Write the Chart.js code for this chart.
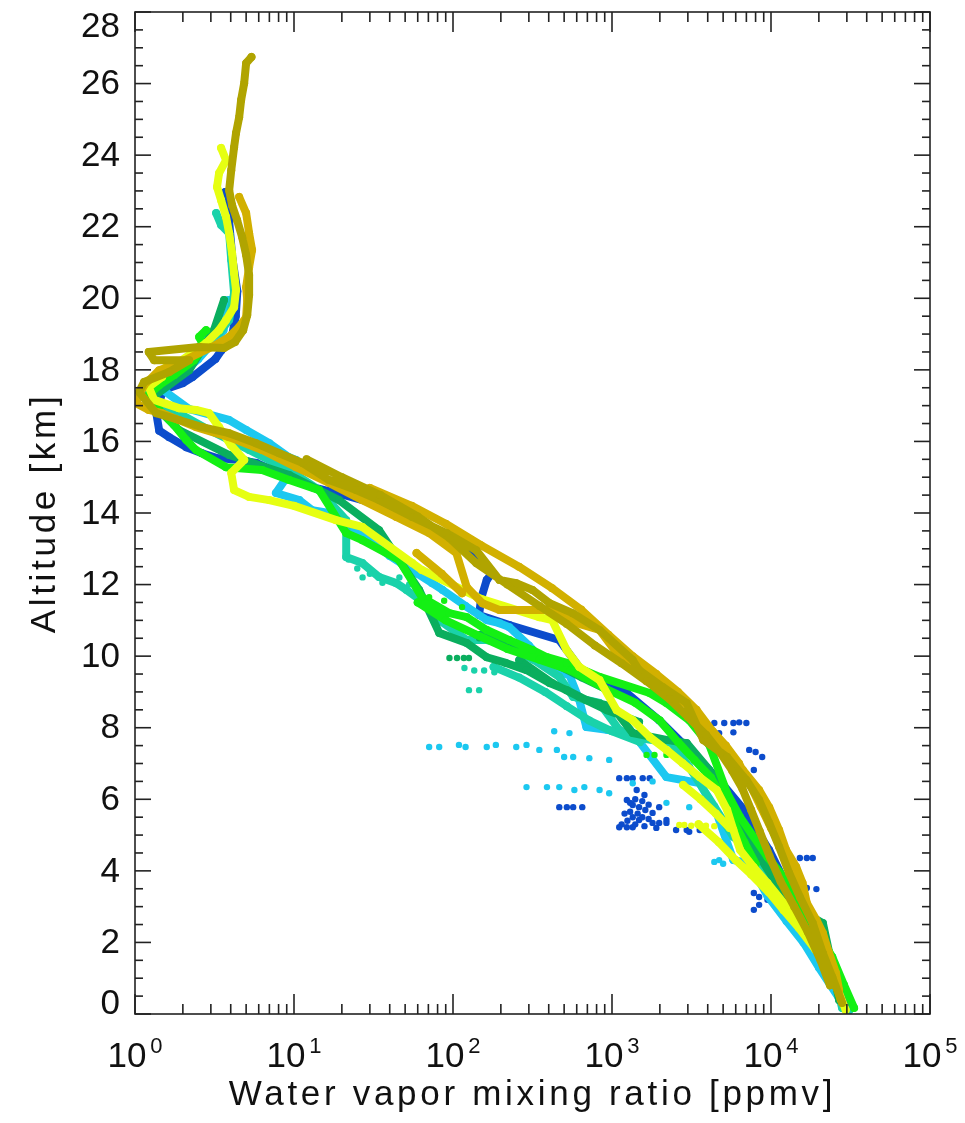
<!DOCTYPE html>
<html>
<head>
<meta charset="utf-8">
<title>Water vapor mixing ratio profiles</title>
<script src="https://cdn.jsdelivr.net/npm/chart.js@4.4.1/dist/chart.umd.min.js"></script>
<style>
  html, body { margin: 0; padding: 0; background: #fff; }
</style>
</head>
<body>
<canvas id="profile-chart" width="965" height="1123"></canvas>
<script>
// AXES

const xDecades = [1, 10, 100, 1000, 10000, 100000];
const xExponents = ['0', '1', '2', '3', '4', '5'];
const yTicks = [0, 2, 4, 6, 8, 10, 12, 14, 16, 18, 20, 22, 24, 26, 28];
const yMinorStep = 0.5;

// PROFILES  [ppmv, km], null = gap in the trace

const blueLine = [
  [3.7, 22.97], [3.9, 22.2], [4.1, 21.1], [4.4, 20.2], [4.3, 19.5], [4.1, 19.0], [3.9, 18.8],
  [3.5, 18.55], [3.2, 18.3], [2.3, 17.8], [2.0, 17.63], [1.5, 17.44], [1.36, 16.8], [1.42, 16.3],
  [1.64, 16.12], [2.1, 15.84], [2.64, 15.67], [3.24, 15.54], [4.5, 15.48], [5.8, 15.4], [7.3, 15.2],
  [9.3, 15.12], [13, 14.72], [18.4, 14.56], [27, 14.36], [36, 14.22], [51, 14.0], [71, 13.61],
  [95, 13.33], [126, 13.05], [153, 12.69], [176, 12.32], [163, 12.13], [150, 11.6], [146, 11.15],
  [226, 10.87], [466, 10.45], [690, 9.42], [835, 9.25], [1070, 9.05], [1240, 8.97], [1980, 8.21],
  [3060, 7.38], [4720, 6.54], [6780, 5.7], [9740, 4.58], [13000, 3.46], [18700, 2.07],
  [25000, 0.95], [30000, 0.25]
];
const blueDots = [
  [3560, 8.13], [3900, 8.13], [4400, 8.13], [5080, 8.13], [5800, 8.13], [6310, 8.15], [7000, 8.13],
  [4200, 7.85], [4720, 7.85], [5800, 7.87], [7290, 7.38], [8000, 7.32], [8800, 7.18], [7800, 6.82],
  [1110, 6.59], [1240, 6.59], [1350, 6.59], [1560, 6.59], [1725, 6.59],
  [1240, 5.98], [1350, 5.84], [1480, 5.78], [1620, 5.7], [1800, 5.62], [1350, 5.5], [1480, 5.42],
  [1110, 5.22], [1240, 5.22], [1350, 5.22], [1800, 5.34], [1980, 5.34], [2200, 5.34], [2530, 5.14],
  [3060, 5.09], [1600, 6.12], [1430, 6.26], [1300, 5.9], [1400, 6.0], [1550, 5.95], [1700, 5.85],
  [1200, 5.6], [1300, 5.65], [1450, 5.6], [1550, 5.5], [1700, 5.45], [1250, 5.4], [1400, 5.3],
  [1600, 5.25], [1900, 5.2], [1150, 5.3],
  [466, 5.78], [520, 5.78], [570, 5.78], [650, 5.78],
  [15190, 4.36], [16800, 4.36], [18300, 4.36],
  [7800, 3.38], [8420, 3.27], [9500, 3.19], [7800, 2.91], [8420, 3.05], [16800, 3.52], [19300, 3.49],
  [1980, 5.78], [2200, 5.42], [2950, 5.14], [3560, 5.14]
];

const cyanLine = [
  [3.9, 19.95], [3.6, 19.1], [2.5, 18.3], [1.5, 17.44], [2.2, 16.9], [3.9, 16.6], [5.0, 16.32],
  [7.0, 15.95], [9.3, 15.56], [10.3, 15.48], [9.0, 15.0], [7.7, 14.56], [10.8, 14.36], [13, 14.08],
  [16.6, 14.0], [25, 13.5], [40, 12.8], [60, 12.3], [74, 12.04], [86, 11.85], [120, 11.4],
  [163, 11.01], [196, 10.92], [226, 10.81], [300, 10.3], [420, 9.61], [540, 9.47], [620, 8.8],
  [690, 8.02], [930, 7.94], [1350, 7.85], [2200, 6.62], [2780, 6.54], [3560, 6.45], [4550, 5.62],
  [5800, 4.3], [7290, 4.22], [9500, 3.3], [12500, 2.6], [16000, 2.0], [20000, 1.3], [28000, 0.31]
];
const cyanDots = [
  [70.8, 7.46], [81.9, 7.46], [109, 7.52], [120, 7.46], [163, 7.46], [186, 7.52], [250, 7.46],
  [290, 7.52], [349, 7.38], [450, 7.38], [500, 7.18], [570, 7.18], [720, 7.15], [960, 7.1],
  [433, 7.9], [540, 7.85], [690, 8.0], [960, 7.95],
  [290, 6.34], [390, 6.34], [466, 6.34], [580, 6.26], [670, 6.34], [835, 6.26], [960, 6.17],
  [1350, 6.45], [1800, 6.5], [2200, 5.9], [3060, 5.78], [4720, 4.3], [5800, 4.3], [4400, 4.25],
  [5000, 4.2]
];

const tealLine = [
  [3.24, 22.38], [3.48, 22.05], [3.91, 21.82], [4.03, 21.07], [4.2, 20.15], [3.91, 19.39],
  [3.38, 19.03], [2.8, 18.83], [2.19, 18.36], [1.81, 17.99], [1.36, 17.8], [1.14, 17.44],
  [1.48, 16.96], [1.89, 16.79], [2.92, 16.32], [5.22, 15.76], [9.33, 15.2], [14.4, 14.64],
  [21.3, 13.8], [21.3, 12.77], [26.9, 12.6], [34.3, 12.21], [44, 12.04], [51, 11.85], [61, 11.6],
  [81.9, 11.01], [122, 10.45], [163, 10.45], [196, 10.37], [226, 10.25], [320, 9.9], [466, 9.42],
  [570, 8.86], [835, 8.69], [1110, 7.94], [1350, 7.74], [2380, 7.57], [3060, 6.9], [4400, 5.8],
  [5800, 4.95], [7290, 4.58], [9500, 3.66], [13700, 2.91], [19300, 1.98], [25600, 0.87],
  [28000, 0.17], [31000, 0.1],
  null,
  [180, 9.7], [260, 9.4], [380, 9.0], [520, 8.6], [720, 8.2], [1000, 7.9], [1500, 7.6]
];
const tealDots = [
  [22, 12.7], [25, 12.45], [30, 12.3], [27, 12.2], [36, 12.05], [46, 12.2], [50, 11.9], [53, 12.0],
  [118, 9.67], [136, 9.6], [157, 9.6], [182, 9.55], [126, 9.05], [146, 9.05],
  [300, 9.65], [380, 9.4]
];

const dgreenLine = [
  [3.63, 19.95], [3.14, 19.11], [2.19, 17.99], [1.22, 17.16], [1.89, 16.32], [3.91, 15.62],
  [9.33, 15.06], [19.2, 14.36], [34.3, 13.52], [61.3, 11.85], [81.9, 10.65], [122, 10.37],
  [163, 9.97], [215, 9.81], [290, 9.61], [405, 9.25], [520, 9.05], [690, 8.77], [1010, 8.58],
  [1350, 7.85], [2200, 7.66], [2950, 7.57], [4090, 6.82], [5460, 5.98], [7290, 4.86],
  [10500, 3.74], [15190, 2.91], [21200, 2.54], [24300, 1.31], [26800, 0.39],
  null,
  [261, 9.89], [420, 9.25], [623, 8.86], [930, 8.49], [1480, 8.16],
  null,
  [150, 10.6], [220, 10.3], [330, 10.0], [480, 9.7], [650, 9.4], [900, 9.1]
];
const dgreenDots = [
  [95, 9.95], [106, 9.95], [117, 9.95], [126, 9.95], [146, 10.5], [176, 10.4]
];

const greenLine = [
  [2.8, 19.11], [2.53, 18.92], [2.72, 18.64], [2.35, 18.27], [1.76, 17.85], [1.42, 17.57],
  [1.22, 17.3], [1.42, 16.88], [1.76, 16.46], [2.1, 16.04], [2.42, 15.76], [3.74, 15.28],
  [6.3, 15.2], [9.33, 14.92], [14.4, 14.64], [21.3, 13.44], [26.9, 13.24], [45.8, 12.69],
  [63.7, 11.65], [94.9, 11.2], [122, 11.09], [163, 10.73], [226, 10.45], [316, 10.17],
  [390, 9.97], [520, 9.81], [835, 9.42], [1725, 8.97], [2200, 8.69], [3060, 8.21], [4090, 7.52],
  [5300, 6.17], [6400, 5.5], [9500, 4.39], [12000, 3.83], [15190, 3.05], [20100, 2.21],
  [24300, 1.59], [28800, 0.81], [33300, 0.17],
  null,
  [60, 11.5], [90, 11.0], [140, 10.6], [220, 10.2], [350, 9.9], [550, 9.6], [900, 9.1],
  [1400, 8.7], [2000, 8.2], [2600, 7.6], [3300, 7.1], [4200, 6.6], [5000, 6.0], [5800, 5.4],
  [6800, 4.8], [8000, 4.2]
];
const greenDots = [
  [70.8, 11.65], [88, 11.55], [114, 11.37], [1650, 7.24], [1850, 7.24], [2200, 7.24]
];

const yellowLine = [
  [3.48, 24.2], [3.74, 23.86], [3.38, 23.5], [3.28, 23.11], [3.48, 22.74], [3.74, 22.27],
  [3.91, 21.82], [4.08, 21.26], [4.2, 20.7], [4.32, 20.23], [4.2, 19.75], [3.74, 19.39],
  [3.38, 19.11], [2.8, 18.75], [2.29, 18.47], [1.89, 18.22], [1.57, 18.08], [1.48, 17.8],
  [1.22, 17.52], [1.32, 17.16], [1.89, 16.93], [2.42, 16.88], [2.92, 16.79], [3.38, 16.4],
  [4.0, 15.9], [4.86, 15.48], [4.03, 15.12], [4.2, 14.64], [5.22, 14.45], [6.98, 14.36],
  [10, 14.2], [18.4, 13.8], [26.9, 13.61], [55.4, 12.6], [63.7, 12.41], [150, 11.6], [349, 11.09],
  [420, 11.01], [518, 10.17], [623, 9.7], [835, 9.33], [1070, 8.49], [1350, 8.21], [1725, 7.74],
  [2200, 7.38], [2780, 7.01], [3560, 6.62], [4550, 6.26], [5300, 5.7], [5800, 5.14], [6400, 4.58],
  [7750, 4.11], [9500, 3.66], [12000, 3.1], [15190, 2.43], [19300, 1.79], [23200, 1.23],
  [26800, 0.59], [29500, 0.11],
  null,
  [2800, 6.4], [3600, 6.0], [4500, 5.6], [5500, 5.2],
  null,
  [3500, 5.3], [4700, 4.8], [6000, 4.3], [7500, 3.9], [9700, 3.4], [12000, 2.9], [15000, 2.4],
  [19000, 1.8]
];
const yellowDots = [
  [2650, 5.28], [2850, 5.28], [3150, 5.26], [3560, 5.26], [3900, 5.26], [4400, 5.25]
];

const goldLine = [
  [4.52, 22.83], [5.0, 22.38], [5.22, 21.82], [5.45, 21.35], [5.22, 20.87], [5.0, 20.31],
  [5.08, 19.95], [5.0, 19.47], [4.52, 19.2], [3.91, 18.92], [3.05, 18.64], [2.53, 18.47],
  [1.89, 18.19], [1.42, 17.99], [1.14, 17.57], [1.01, 17.07], [1.22, 16.88], [1.48, 16.79],
  [2.42, 16.4], [3.91, 16.12], [6.3, 15.76], [10.3, 15.28], [16.6, 14.84], [26.9, 14.36],
  [44, 13.89], [70.8, 13.44], [105, 12.88], [122, 11.93], [153, 11.48], [196, 11.29], [405, 11.29],
  [600, 10.92], [835, 10.73], [1070, 10.09], [1350, 9.61], [1910, 9.25], [2540, 8.86],
  [3060, 8.58], [3750, 8.13], [5300, 7.38], [6650, 6.82], [8420, 6.26], [9740, 5.78],
  [11250, 5.14], [12450, 4.58], [14400, 4.11], [15800, 3.66], [16800, 3.1], [19300, 2.63],
  [21200, 2.26], [23200, 1.7], [25600, 1.15], [26800, 0.67],
  null,
  [45.8, 14.0], [70, 13.6], [94.9, 13.05],
  null,
  [59, 12.88], [85, 12.3], [114, 11.76],
  null,
  [30, 14.7], [55, 14.2], [90, 13.7], [150, 13.1], [260, 12.5], [420, 11.9], [640, 11.3],
  [950, 10.6], [1350, 10.0], [1900, 9.5], [2600, 9.0], [3400, 8.5], [4300, 7.9], [5200, 7.5],
  [6300, 7.0], [7400, 6.4], [8600, 5.8], [10000, 5.2], [11800, 4.6], [13800, 3.9], [16000, 3.2],
  [18500, 2.5], [21500, 1.8], [24500, 1.1], [27500, 0.4]
];

const oliveLine = [
  [5.4, 26.74], [5.0, 26.57], [4.86, 26.01], [4.65, 25.54], [4.52, 25.06], [4.32, 24.62],
  [4.2, 24.22], [4.03, 23.58], [3.91, 23.02], [4.08, 22.6], [4.39, 22.18], [4.72, 21.71],
  [5.0, 21.21], [5.22, 20.65], [5.22, 20.09], [5.08, 19.53], [4.79, 19.11], [4.26, 18.78],
  [3.63, 18.61], [2.53, 18.64], [1.22, 18.5], [1.32, 18.27], [2.19, 18.27], [1.64, 17.94],
  [1.14, 17.66], [1.06, 17.38], [1.36, 16.79], [1.89, 16.6], [2.64, 16.4], [3.91, 16.23],
  [5.77, 15.95], [8.07, 15.67], [11.3, 15.4], [16.6, 14.92], [24.6, 14.64], [34.3, 14.36],
  [55.4, 13.89], [91, 13.44], [140, 12.96], [196, 12.13], [250, 12.04], [316, 11.85], [405, 11.48],
  [565, 11.2], [835, 10.73], [1350, 9.89], [1480, 9.61], [2080, 9.14], [2950, 8.69], [3750, 7.66],
  [5300, 7.18], [7000, 6.54], [8420, 5.98], [9740, 5.34], [11250, 4.67], [13000, 3.94],
  [15190, 3.27], [18300, 2.54], [21200, 1.7], [24300, 1.03], [28000, 0.31],
  null,
  [12, 15.5], [20, 15.0], [35, 14.5], [60, 13.9], [95, 13.3], [140, 12.6], [220, 12.0],
  [350, 11.4], [520, 10.9], [780, 10.3], [1150, 9.8], [1650, 9.3], [2300, 8.8], [3000, 8.3],
  [3900, 7.8], [4800, 7.3], [5700, 6.8], [6600, 6.3], [7500, 5.7], [8500, 5.1], [9800, 4.4],
  [11500, 3.7], [14000, 3.0], [17000, 2.3], [20500, 1.5], [23500, 0.8]
];

// bottom layer first
const series = [
  { color: '#0c4ccc', line: blueLine, dots: blueDots },
  { color: '#1cc8f0', line: cyanLine, dots: cyanDots },
  { color: '#1ad2aa', line: tealLine, dots: tealDots },
  { color: '#0aae5e', line: dgreenLine, dots: dgreenDots },
  { color: '#14f014', line: greenLine, dots: greenDots },
  { color: '#e6ff12', line: yellowLine, dots: yellowDots },
  { color: '#d2b000', line: goldLine, dots: [] },
  { color: '#b0a400', line: oliveLine, dots: [] }
];

function toXY(list) {
  return list.map(p => p ? { x: p[0], y: p[1] } : { x: null, y: null });
}

const datasets = [];
series.forEach(s => {
  datasets.push({
    data: toXY(s.line),
    showLine: true,
    borderColor: s.color,
    backgroundColor: s.color,
    borderWidth: 8,
    borderJoinStyle: 'round',
    borderCapStyle: 'round',
    pointRadius: 4,
    pointBorderWidth: 0,
    spanGaps: false
  });
  datasets.push({
    data: toXY(s.dots),
    backgroundColor: s.color,
    borderColor: s.color,
    pointRadius: 3.2,
    pointBorderWidth: 0
  });
});
// chart.js paints the first dataset on top
datasets.reverse();

// IDL style frame, inward ticks, labels
const FONT = '"Liberation Sans", Arial, sans-serif';

const idlAxes = {
  id: 'idlAxes',
  afterDraw(chart) {
    const { ctx, chartArea: a, scales: { x, y } } = chart;
    ctx.save();
    ctx.strokeStyle = '#222';
    ctx.lineWidth = 1.6;
    ctx.strokeRect(a.left, a.top, a.right - a.left, a.bottom - a.top);

    function seg(x1, y1, x2, y2) {
      ctx.beginPath();
      ctx.moveTo(x1, y1);
      ctx.lineTo(x2, y2);
      ctx.stroke();
    }

    // x ticks, bottom and top
    xDecades.forEach((d, i) => {
      const px = x.getPixelForValue(d);
      seg(px, a.bottom, px, a.bottom - 20);
      seg(px, a.top, px, a.top + 20);
      if (i < xDecades.length - 1) {
        for (let m = 2; m <= 9; m++) {
          const mx = x.getPixelForValue(d * m);
          seg(mx, a.bottom, mx, a.bottom - 10);
          seg(mx, a.top, mx, a.top + 10);
        }
      }
    });

    // y ticks, left and right
    for (let v = 0; v <= 28; v += yMinorStep) {
      const py = y.getPixelForValue(v);
      const len = v % 2 === 0 ? 16 : 8;
      seg(a.left, py, a.left + len, py);
      seg(a.right, py, a.right - len, py);
    }

    ctx.fillStyle = '#111';

    // y labels
    ctx.font = '35px ' + FONT;
    ctx.textAlign = 'right';
    ctx.textBaseline = 'middle';
    yTicks.forEach(v => {
      let py = y.getPixelForValue(v);
      py = Math.max(a.top + 14, Math.min(a.bottom - 11, py));
      ctx.fillText(String(v), a.left - 15, py + 1);
    });

    // x labels 10^n
    ctx.textAlign = 'left';
    ctx.textBaseline = 'alphabetic';
    xDecades.forEach((d, i) => {
      const px = x.getPixelForValue(d);
      ctx.font = '35px ' + FONT;
      const wBase = ctx.measureText('10').width;
      ctx.font = '22px ' + FONT;
      const wExp = ctx.measureText(xExponents[i]).width;
      const start = px - (wBase + 4 + wExp) / 2;
      ctx.font = '35px ' + FONT;
      ctx.fillText('10', start, a.bottom + 53);
      ctx.font = '22px ' + FONT;
      ctx.fillText(xExponents[i], start + wBase + 4, a.bottom + 39);
    });

    // axis titles
    ctx.font = '35px ' + FONT;
    ctx.letterSpacing = '3.7px';
    ctx.textAlign = 'center';
    ctx.fillText('Water vapor mixing ratio [ppmv]', (a.left + a.right) / 2, a.bottom + 91);

    ctx.translate(55, (a.top + a.bottom) / 2);
    ctx.rotate(-Math.PI / 2);
    ctx.fillText('Altitude [km]', 0, 0);
    ctx.restore();
  }
};

const profileChart = new Chart(document.getElementById('profile-chart'), {
  type: 'scatter',
  data: { datasets },
  options: {
    responsive: false,
    animation: false,
    layout: { padding: { left: 135, right: 35, top: 12, bottom: 109 } },
    scales: {
      x: { type: 'logarithmic', min: 1, max: 100000, display: false },
      y: { type: 'linear', min: 0, max: 28, display: false }
    },
    plugins: {
      legend: { display: false },
      tooltip: { enabled: false }
    }
  },
  plugins: [idlAxes]
});
</script>
</body>
</html>
